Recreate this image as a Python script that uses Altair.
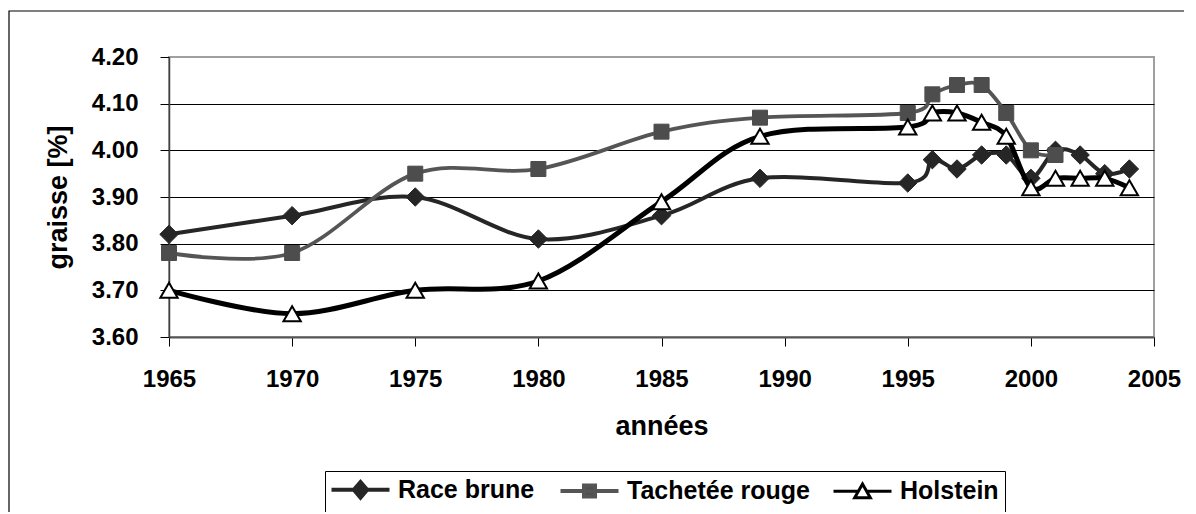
import altair as alt
import pandas as pd

# ---- data ----
years_full = [1965, 1970, 1975, 1980, 1985, 1989, 1995, 1996, 1997, 1998, 1999, 2000, 2001, 2002, 2003, 2004]
race_brune = [3.82, 3.86, 3.90, 3.81, 3.86, 3.94, 3.93, 3.98, 3.96, 3.99, 3.99, 3.94, 4.00, 3.99, 3.95, 3.96]
years_tach = [1965, 1970, 1975, 1980, 1985, 1989, 1995, 1996, 1997, 1998, 1999, 2000, 2001]
tachetee_rouge = [3.78, 3.78, 3.95, 3.96, 4.04, 4.07, 4.08, 4.12, 4.14, 4.14, 4.08, 4.00, 3.99]
holstein = [3.70, 3.65, 3.70, 3.72, 3.89, 4.03, 4.05, 4.08, 4.08, 4.06, 4.03, 3.92, 3.94, 3.94, 3.94, 3.92]

series_names = ["Race brune", "Tachetée rouge", "Holstein"]
x_ticks = [1965, 1970, 1975, 1980, 1985, 1990, 1995, 2000, 2005]
y_ticks = [3.6, 3.7, 3.8, 3.9, 4.0, 4.1, 4.2]

rows = []
for y, v in zip(years_full, race_brune):
    rows.append({"year": y, "value": v, "series": series_names[0]})
for y, v in zip(years_tach, tachetee_rouge):
    rows.append({"year": y, "value": v, "series": series_names[1]})
for y, v in zip(years_full, holstein):
    rows.append({"year": y, "value": v, "series": series_names[2]})
df = pd.DataFrame(rows)

FONT = "Liberation Sans"
line_colors = ["#262626", "#555555", "#000000"]
marker_fill = ["#262626", "#4d4d4d", "#ffffff"]
marker_stroke = ["#262626", "#4d4d4d", "#000000"]
marker_shape = ["diamond", "square", "triangle-up"]
marker_size = [340, 225, 300]
marker_sw = [1, 1, 2]
line_width = [4, 3.8, 5]

P_DIAMOND = "M-1,0H1M0,-0.27L0.23,0L0,0.27L-0.23,0Z"
P_SQUARE = "M-1,0H1M-0.19,-0.19H0.19V0.19H-0.19Z"
P_TRI = "M-1,0H-0.14M0.14,0H1M0,-0.25L0.27,0.22L-0.27,0.22Z"

def pick(a, b, c):
    return ("datum.value === 'Race brune' ? " + a +
            " : datum.value === 'Tachetée rouge' ? " + b + " : " + c)

legend = alt.Legend(
    title=None,
    orient="none",
    legendX=156,
    legendY=414,
    direction="horizontal",
    columns=3,
    symbolSize=3364,
    symbolOpacity=1,
    symbolOffset=17,
    symbolType=alt.ExprRef(pick("'" + P_DIAMOND + "'", "'" + P_SQUARE + "'", "'" + P_TRI + "'")),
    symbolFillColor=alt.ExprRef(pick("'#262626'", "'#4d4d4d'", "'#ffffff'")),
    symbolStrokeColor=alt.ExprRef(pick("'#262626'", "'#4d4d4d'", "'#000000'")),
    symbolStrokeWidth=alt.ExprRef(pick("4", "4", "3")),
    labelFont=FONT,
    labelFontSize=25,
    labelFontWeight="bold",
    labelColor="black",
    labelOffset=25,
    labelLimit=400,
    columnPadding=17,
    padding=6,
    strokeColor="black",
)

x_enc = alt.X(
    "year:Q",
    scale=alt.Scale(domain=[1965, 2005], nice=False, zero=False),
    axis=alt.Axis(
        values=x_ticks, format="d", title="années", grid=False,
        labelFont=FONT, labelFontSize=24, labelFontWeight="bold", labelColor="black",
        labelBaseline="alphabetic", labelPadding=40, labelFlush=False,
        tickSize=9, tickColor="black", tickWidth=1,
        domainColor="#555555", domainWidth=2,
        titleFont=FONT, titleFontSize=27, titleFontWeight="bold", titleColor="black",
        titleX=492.5, titleY=97, titleBaseline="alphabetic",
    ),
)
y_enc = alt.Y(
    "value:Q",
    scale=alt.Scale(domain=[3.6, 4.2], nice=False, zero=False),
    axis=alt.Axis(
        values=y_ticks, format=".2f", title="graisse [%]", grid=True,
        gridColor="black", gridWidth=1,
        gridOpacity=alt.condition("datum.value > 4.15 || datum.value < 3.65", alt.value(0), alt.value(1)),
        labelFont=FONT, labelFontSize=24, labelFontWeight="bold", labelColor="black",
        labelPadding=22, labelFlush=False,
        tickSize=9, tickColor="black", tickWidth=1,
        domainColor="#404040", domainWidth=1.5,
        titleFont=FONT, titleFontSize=27, titleFontWeight="bold", titleColor="black",
        titleAngle=270, titleX=-103, titleY=140, titleBaseline="alphabetic", titleAlign="center",
    ),
)

stroke_scale = alt.Scale(domain=series_names, range=line_colors)

frame = alt.Chart(pd.DataFrame({"k": [0]})).mark_rect(
    fill="white", fillOpacity=0, stroke="black", strokeWidth=1.2, clip=False
).encode(
    x=alt.value(-160), x2=alt.value(3000), y=alt.value(-46), y2=alt.value(3000)
)

layers = [frame]
for i, name in enumerate(series_names):
    base = alt.Chart(df).transform_filter(alt.datum.series == name)
    line = base.mark_line(interpolate="cardinal", strokeWidth=line_width[i]).encode(
        x=x_enc,
        y=y_enc,
        stroke=alt.Stroke("series:N", scale=stroke_scale, legend=legend, sort=series_names),
    )
    pts = base.mark_point(
        filled=True, opacity=1, shape=marker_shape[i], fill=marker_fill[i],
        stroke=marker_stroke[i], size=marker_size[i], strokeWidth=marker_sw[i],
    ).encode(
        x=alt.X("year:Q"),
        y=alt.Y("value:Q"),
    )
    layers += [line, pts]

chart = alt.layer(*layers).properties(
    width=985,
    height=280,
    padding={"left": 161, "top": 49, "right": 30, "bottom": 175},
    autosize=alt.AutoSizeParams(type="none"),
    background="white",
).configure_view(
    stroke="#a0a0a0", strokeWidth=2
)

chart.save("out.html", embed_options={"renderer": "svg", "actions": False})
